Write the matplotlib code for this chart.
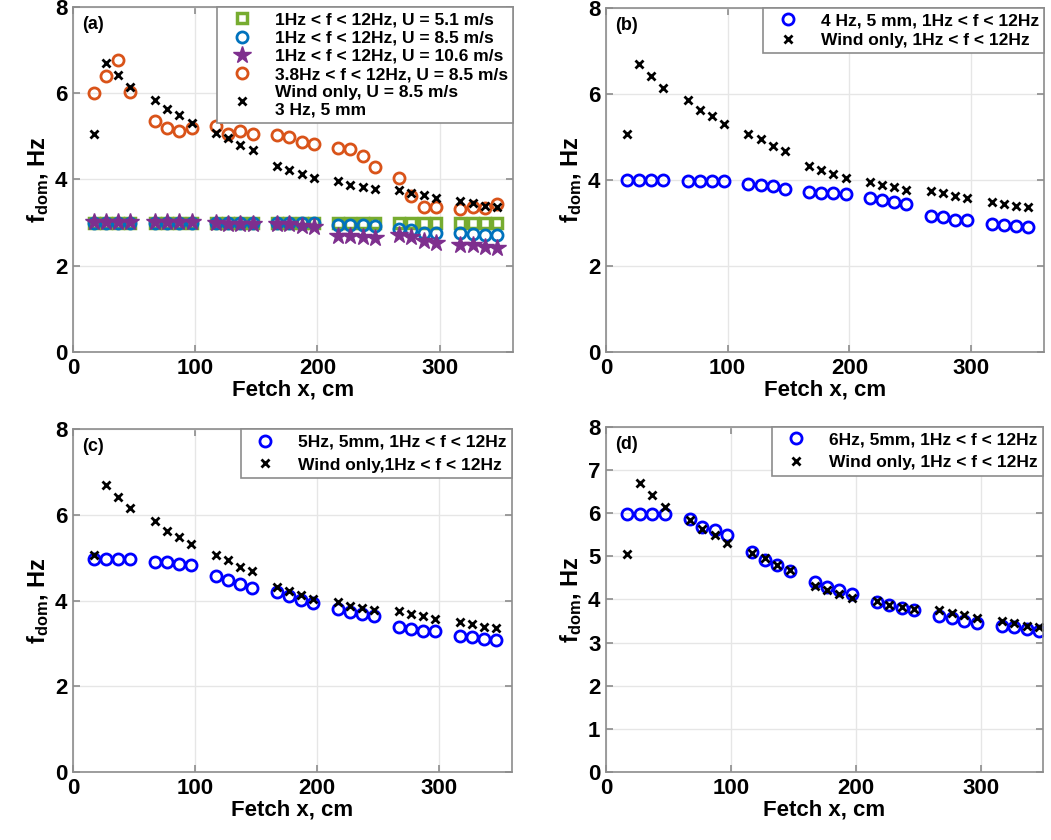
import matplotlib
matplotlib.use("Agg")
import matplotlib.pyplot as plt

plt.rcParams['font.family'] = ['Liberation Sans', 'DejaVu Sans']
plt.rcParams['font.weight'] = 'bold'
plt.rcParams['mathtext.fontset'] = 'custom'
plt.rcParams['mathtext.rm'] = 'Liberation Sans:bold'
plt.rcParams['mathtext.it'] = 'Liberation Sans:bold'
plt.rcParams['mathtext.bf'] = 'Liberation Sans:bold'

# fetch positions (cm)
fetch = [17, 27, 37, 47, 67, 77, 87, 97, 117, 127, 137, 147,
         167, 177, 187, 197, 217, 227, 237, 247, 267, 277, 287, 297,
         317, 327, 337, 347]

# wind only, U = 8.5 m/s (same in every panel)
wind_only = [5.06, 6.69, 6.42, 6.15, 5.85, 5.63, 5.49, 5.31, 5.07, 4.95, 4.79, 4.68,
             4.32, 4.23, 4.13, 4.04, 3.96, 3.88, 3.83, 3.77, 3.75, 3.69, 3.63, 3.58,
             3.49, 3.45, 3.39, 3.36]

# panel (a)
a_u51 = [3.0] * 28
a_u85 = [3.0, 3.0, 3.0, 3.0, 3.0, 3.0, 3.0, 3.0, 3.0, 3.0, 3.0, 3.0,
         3.0, 3.0, 3.0, 3.0, 2.94, 2.94, 2.94, 2.92, 2.84, 2.83, 2.77, 2.77,
         2.75, 2.73, 2.72, 2.71]
a_u106 = [3.02, 3.02, 3.02, 3.02, 3.01, 3.01, 3.01, 3.01, 2.98, 2.96, 2.96, 2.96,
          2.96, 2.96, 2.93, 2.90, 2.70, 2.69, 2.67, 2.65, 2.72, 2.67, 2.58, 2.52,
          2.48, 2.48, 2.44, 2.42]
a_38hz = [6.01, 6.39, 6.76, 6.02, 5.36, 5.19, 5.13, 5.19, 5.24, 5.05, 5.12, 5.05,
          5.04, 4.99, 4.86, 4.82, 4.72, 4.71, 4.54, 4.29, 4.04, 3.61, 3.36, 3.36,
          3.32, 3.37, 3.33, 3.43]

# panel (b) 4 Hz, 5 mm
b_4hz = [4.00, 4.00, 4.00, 4.00, 3.98, 3.98, 3.98, 3.97, 3.91, 3.88, 3.85, 3.78,
         3.73, 3.70, 3.69, 3.67, 3.57, 3.53, 3.48, 3.44, 3.17, 3.13, 3.08, 3.06,
         2.97, 2.95, 2.94, 2.91]

# panel (c) 5 Hz, 5 mm
c_5hz = [4.96, 4.98, 4.96, 4.96, 4.90, 4.89, 4.86, 4.82, 4.57, 4.47, 4.38, 4.30,
         4.19, 4.10, 4.01, 3.94, 3.81, 3.74, 3.68, 3.63, 3.38, 3.33, 3.30, 3.28,
         3.18, 3.15, 3.11, 3.07]

# panel (d) 6 Hz, 5 mm
d_6hz = [5.98, 5.98, 5.98, 5.98, 5.87, 5.69, 5.61, 5.49, 5.11, 4.92, 4.79, 4.66,
         4.41, 4.30, 4.23, 4.13, 3.95, 3.88, 3.81, 3.75, 3.61, 3.56, 3.51, 3.45,
         3.39, 3.35, 3.31, 3.27]

fig = plt.figure(figsize=(10.51, 8.4), dpi=100)
ax_a = fig.add_axes([0.0695, 0.581, 0.4185, 0.4107])
ax_b = fig.add_axes([0.5766, 0.581, 0.4167, 0.4095])
ax_c = fig.add_axes([0.0695, 0.081, 0.4177, 0.408])
ax_d = fig.add_axes([0.5766, 0.081, 0.4158, 0.4107])

wind_kw = dict(ls='none', marker='x', color='black', ms=5.5, mew=2)


def style(ax, tag, xmax, ystep):
    ax.set_xlim(0, xmax)
    ax.set_ylim(0, 8)
    ax.set_xticks([0, 100, 200, 300])
    ax.set_yticks(range(0, 9, ystep))
    ax.grid(True, color='#e6e6e6', lw=1)
    ax.set_axisbelow(True)
    for s in ax.spines.values():
        s.set_color('#8c8c8c')
        s.set_linewidth(1.2)
    ax.tick_params(direction='in', length=5, width=1.2, color='#8c8c8c',
                   top=True, right=True, labelsize=16, pad=4)
    ax.set_xlabel('Fetch x, cm', fontsize=16, fontweight='bold', labelpad=1)
    ax.set_ylabel(r'$\mathbf{f_{dom}}$, Hz', fontsize=17, fontweight='bold', labelpad=3)
    ax.text(0.02, 0.975, tag, transform=ax.transAxes, fontsize=13,
            fontweight='bold', va='top', ha='left')


def legend(ax, spacing):
    lg = ax.legend(loc='upper right', bbox_to_anchor=(1, 1), borderaxespad=0,
                   fontsize=12.5, fancybox=False, edgecolor='#8c8c8c',
                   framealpha=1, handlelength=2.2, handletextpad=0.8,
                   labelspacing=spacing, borderpad=0.3)
    lg.get_frame().set_linewidth(1.2)


# (a)
ax_a.plot(fetch, a_u51, ls='none', marker='s', ms=7, mfc='none', mec='#77AC30', mew=2.5,
          label='1Hz < f < 12Hz, U = 5.1 m/s')
ax_a.plot(fetch, a_u85, ls='none', marker='o', ms=8, mfc='none', mec='#0072BD', mew=2,
          label='1Hz < f < 12Hz, U = 8.5 m/s')
ax_a.plot(fetch, a_u106, ls='none', marker='*', ms=13, color='#7E2F8E',
          label='1Hz < f < 12Hz, U = 10.6 m/s')
ax_a.plot(fetch, a_38hz, ls='none', marker='o', ms=8, mfc='none', mec='#D95319', mew=2,
          label='3.8Hz < f < 12Hz, U = 8.5 m/s')
ax_a.plot(fetch, wind_only, label='Wind only, U = 8.5 m/s\n3 Hz, 5 mm', **wind_kw)
style(ax_a, '(a)', 360, 2)
legend(ax_a, 0.18)

# (b)
ax_b.plot(fetch, b_4hz, ls='none', marker='o', ms=8, mfc='none', mec='#0000FF', mew=2,
          label='4 Hz, 5 mm, 1Hz < f < 12Hz')
ax_b.plot(fetch, wind_only, label='Wind only, 1Hz < f < 12Hz', **wind_kw)
style(ax_b, '(b)', 360, 2)
legend(ax_b, 0.25)

# (c)
ax_c.plot(fetch, c_5hz, ls='none', marker='o', ms=8, mfc='none', mec='#0000FF', mew=2,
          label='5Hz, 5mm, 1Hz < f < 12Hz')
ax_c.plot(fetch, wind_only, label='Wind only,1Hz < f < 12Hz', **wind_kw)
style(ax_c, '(c)', 360, 2)
legend(ax_c, 0.45)

# (d)
ax_d.plot(fetch, d_6hz, ls='none', marker='o', ms=8, mfc='none', mec='#0000FF', mew=2,
          label='6Hz, 5mm, 1Hz < f < 12Hz')
ax_d.plot(fetch, wind_only, label='Wind only, 1Hz < f < 12Hz', **wind_kw)
style(ax_d, '(d)', 350, 1)
legend(ax_d, 0.45)

fig.savefig('out.png', dpi=100)
